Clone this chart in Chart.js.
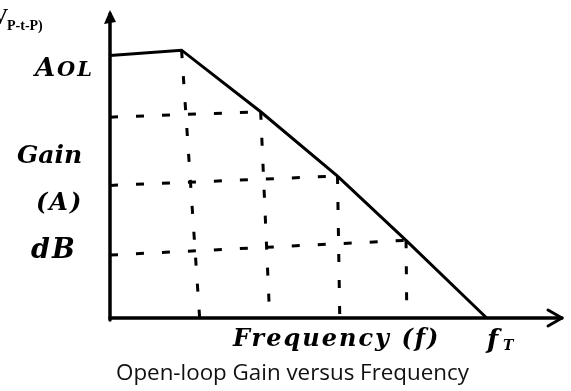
<!DOCTYPE html>
<html>
<head>
<meta charset="utf-8">
<script src="https://cdn.jsdelivr.net/npm/chart.js@4.4.1/dist/chart.umd.min.js"></script>
<style>
  html, body { margin: 0; padding: 0; background: #fff; }
  #wrap { width: 571px; height: 391px; position: relative; }
</style>
</head>
<body>
<div id="wrap"><canvas id="c" width="571" height="391"></canvas></div>
<script>
// Frequency positions (decade steps) and open-loop gain in dB along the response
const freqPoints = [0, 0.95, 2.0, 3.02, 3.93, 5.0];
const gainDb     = [98, 100, 77, 53, 29, 0];

// Dashed guide lines: horizontal ones start at the gain axis, vertical ones drop to the frequency axis
const hGuideStartDb = [75, 49.5, 23.5];   // where each horizontal guide meets the gain axis
const hGuideVertex  = [2, 3, 4];          // index into the response for each horizontal guide
const vGuideVertex  = [1, 2, 3, 4];       // index into the response for each vertical guide
const vGuideFootF   = [1.19, 2.12, 3.05, 3.94]; // where each vertical guide lands on the frequency axis

const xMax = 6;
const yMax = 115;

const titleText = 'Open-loop Gain versus Frequency';
const yLabelLines = ['Gain', '(A)', 'dB'];
const xLabelText = 'Frequency (f)';

const ink = '#000';
const dash = [8, 18];

const datasets = [];
datasets.push({
  data: freqPoints.map((f, i) => ({ x: f, y: gainDb[i] })),
  borderColor: ink, borderWidth: 3, pointRadius: 0, tension: 0
});
hGuideVertex.forEach((vi, k) => {
  datasets.push({
    data: [{ x: 0, y: hGuideStartDb[k] }, { x: freqPoints[vi], y: gainDb[vi] }],
    borderColor: ink, borderWidth: 3, borderDash: dash, pointRadius: 0
  });
});
vGuideVertex.forEach((vi, k) => {
  datasets.push({
    data: [{ x: freqPoints[vi], y: gainDb[vi] }, { x: vGuideFootF[k], y: 0 }],
    borderColor: ink, borderWidth: 3, borderDash: dash, pointRadius: 0
  });
});

// write text at a fixed size, opening the letters up a little (at most 2px) towards a target width
function spacedText(ctx, text, x, y, width, font) {
  ctx.font = font;
  ctx.letterSpacing = '0px';
  const natural = ctx.measureText(text).width;
  const gap = Math.min(2, Math.max(0, (width - natural) / Math.max(1, text.length - 1)));
  ctx.letterSpacing = gap.toFixed(2) + 'px';
  ctx.fillText(text, x, y);
  ctx.letterSpacing = '0px';
}

// Axes with arrowheads plus the hand-lettered labels
const sketchDecor = {
  id: 'sketchDecor',
  afterDatasetsDraw(chart) {
    const { ctx, scales: { x, y } } = chart;
    const x0 = x.getPixelForValue(0), y0 = y.getPixelForValue(0);
    const xEnd = x.getPixelForValue(xMax), yTop = y.getPixelForValue(yMax);
    ctx.save();
    ctx.strokeStyle = ink; ctx.fillStyle = ink;
    ctx.lineWidth = 3.5; ctx.lineCap = 'round'; ctx.lineJoin = 'round';
    // gain axis
    ctx.beginPath(); ctx.moveTo(x0, y0 + 2); ctx.lineTo(x0, yTop + 4); ctx.stroke();
    ctx.beginPath();
    ctx.moveTo(x0, yTop); ctx.lineTo(x0 - 6, yTop + 14); ctx.lineTo(x0 + 6, yTop + 12); ctx.closePath();
    ctx.fill();
    // frequency axis
    ctx.beginPath(); ctx.moveTo(x0, y0); ctx.lineTo(xEnd, y0); ctx.stroke();
    ctx.lineWidth = 3;
    ctx.beginPath();
    ctx.moveTo(xEnd - 14, y0 - 8); ctx.lineTo(xEnd, y0); ctx.lineTo(xEnd - 14, y0 + 8);
    ctx.stroke();

    // labels
    ctx.textBaseline = 'alphabetic';
    ctx.textAlign = 'left';
    const hand = '"DejaVu Serif"';
    ctx.font = 'italic bold 26px ' + hand;
    ctx.fillText('A', 35, 76);
    spacedText(ctx, 'OL', 57, 76, 36, 'italic bold 21px ' + hand);

    spacedText(ctx, yLabelLines[0], 17, 163, 63, 'italic bold 25px ' + hand);
    spacedText(ctx, yLabelLines[1], 36, 210, 48, 'italic bold 24px ' + hand);
    spacedText(ctx, yLabelLines[2], 31, 258, 46, 'italic bold 27px ' + hand);

    spacedText(ctx, xLabelText, 233, 346, 215, 'italic bold 24px ' + hand);
    ctx.font = 'italic bold 26px ' + hand;
    ctx.fillText('f', 487, 348);
    ctx.font = 'italic bold 14px ' + hand;
    ctx.fillText('T', 503, 350);

    // unit note at the top-left corner
    ctx.font = 'bold 24px "Liberation Serif"';
    ctx.fillText('V', -9, 24);
    ctx.font = 'bold 14px "Liberation Serif"';
    ctx.fillText('P-t-P)', 7, 30);

    // caption
    ctx.fillStyle = '#111';
    ctx.font = '20px "Open Sans"';
    const size = 20 * 353 / ctx.measureText(titleText).width;
    ctx.font = size.toFixed(2) + 'px "Open Sans"';
    ctx.fillText(titleText, 116, 380);
    ctx.restore();
  }
};

new Chart(document.getElementById('c'), {
  type: 'line',
  data: { datasets },
  options: {
    responsive: false,
    animation: false,
    clip: false,
    layout: { padding: { left: 110, right: 9, top: 10, bottom: 73 } },
    plugins: { legend: { display: false }, tooltip: { enabled: false }, title: { display: false } },
    scales: {
      x: { type: 'linear', min: 0, max: xMax, display: false },
      y: { type: 'linear', min: 0, max: yMax, display: false }
    },
    elements: { line: { borderCapStyle: 'butt' } }
  },
  plugins: [sketchDecor]
});
</script>
</body>
</html>
